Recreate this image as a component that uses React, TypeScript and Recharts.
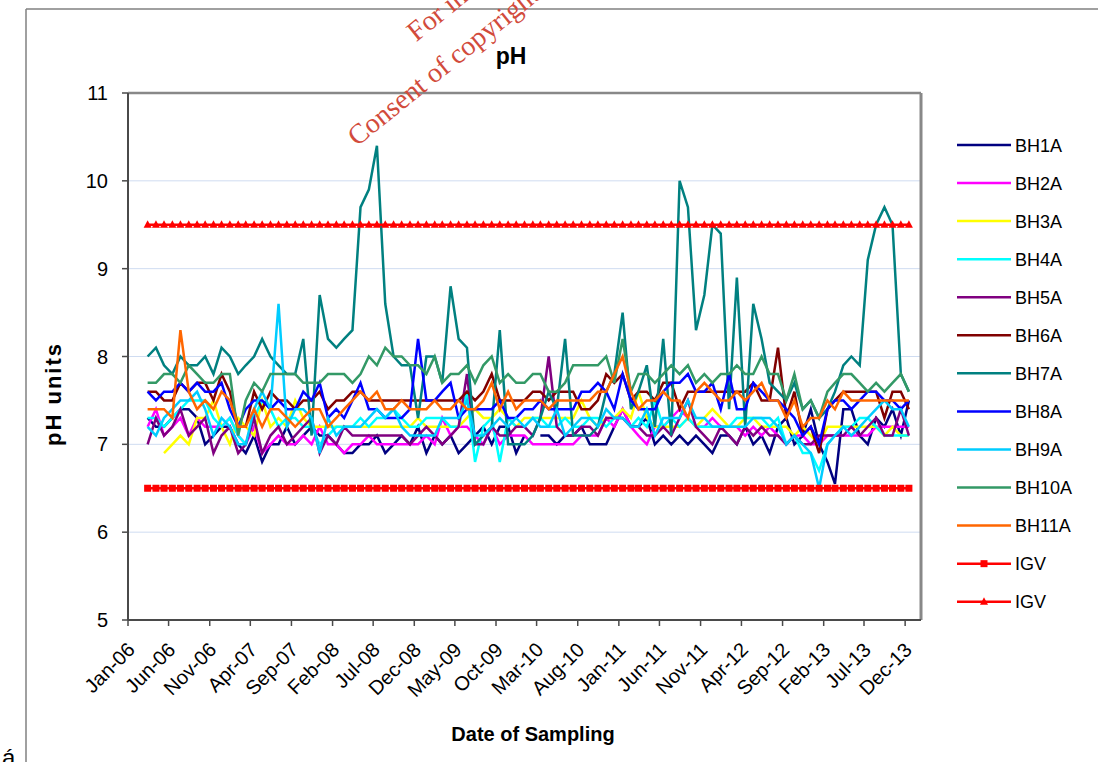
import { LineChart, Line, XAxis, YAxis, CartesianGrid, ReferenceLine } from "recharts";

// Monthly sampling rounds, Mar-06 .. Dec-13 (values in pH units)
const sampleDates = [
  "Mar-06", "Apr-06", "May-06", "Jun-06", "Jul-06", "Aug-06", "Sep-06", "Oct-06", "Nov-06", "Dec-06",
  "Jan-07", "Feb-07", "Mar-07", "Apr-07", "May-07", "Jun-07", "Jul-07", "Aug-07", "Sep-07", "Oct-07", "Nov-07", "Dec-07",
  "Jan-08", "Feb-08", "Mar-08", "Apr-08", "May-08", "Jun-08", "Jul-08", "Aug-08", "Sep-08", "Oct-08", "Nov-08", "Dec-08",
  "Jan-09", "Feb-09", "Mar-09", "Apr-09", "May-09", "Jun-09", "Jul-09", "Aug-09", "Sep-09", "Oct-09", "Nov-09", "Dec-09",
  "Jan-10", "Feb-10", "Mar-10", "Apr-10", "May-10", "Jun-10", "Jul-10", "Aug-10", "Sep-10", "Oct-10", "Nov-10", "Dec-10",
  "Jan-11", "Feb-11", "Mar-11", "Apr-11", "May-11", "Jun-11", "Jul-11", "Aug-11", "Sep-11", "Oct-11", "Nov-11", "Dec-11",
  "Jan-12", "Feb-12", "Mar-12", "Apr-12", "May-12", "Jun-12", "Jul-12", "Aug-12", "Sep-12", "Oct-12", "Nov-12", "Dec-12",
  "Jan-13", "Feb-13", "Mar-13", "Apr-13", "May-13", "Jun-13", "Jul-13", "Aug-13", "Sep-13", "Oct-13", "Nov-13", "Dec-13",
];

const tickLabels = [
  "Jan-06", "Jun-06", "Nov-06", "Apr-07", "Sep-07", "Feb-08", "Jul-08", "Dec-08", "May-09", "Oct-09",
  "Mar-10", "Aug-10", "Jan-11", "Jun-11", "Nov-11", "Apr-12", "Sep-12", "Feb-13", "Jul-13", "Dec-13",
];

const yTicks = [5, 6, 7, 8, 9, 10, 11];

const bh1a = [
  7.3, 7.2, 7.2, 7.3, 7.4, 7.4, 7.3, 7.0, 7.1, 7.2,
  7.2, 7.0, 6.9, 7.1, 6.8, 7.0, 7.0, 7.2, 7.0, 7.1,
  7.2, 7.1, 7.1, 7.0, 6.9, 6.9, 7.0, 7.0, 7.1, 6.9,
  7.0, 7.1, 7.0, 7.2, 6.9, 7.1, 7.0, 7.1, 6.9, 7.0,
  7.1, 7.2, 7.0, 7.2, 7.2, 6.9, 7.1, null, 7.1, 7.1,
  7.0, 7.1, 7.1, 7.2, 7.0, 7.0, 7.0, 7.2, 7.4, 7.2,
  7.2, 7.3, 7.0, 7.1, 7.0, 7.1, 7.0, 7.1, 7.0, 6.9,
  7.1, 7.1, 7.0, 7.2, 7.0, 7.1, 6.9, 7.2, 7.3, 7.0,
  7.1, 7.4, 7.0, 6.8, 6.55, 7.4, 7.4, 7.1, 7.0, 7.3,
  7.2, 7.4, 7.1, 7.5,
];

const bh2a = [
  7.2, 7.4, 7.1, 7.2, 7.3, 7.1, 7.3, 7.2, 7.2, 7.2,
  7.3, 7.1, 7.0, 7.2, 6.9, 7.0, 7.1, 7.0, 7.0, 7.1,
  7.0, 7.2, 7.0, 7.0, 6.9, 7.0, 7.0, 7.1, 7.0, 7.0,
  7.0, 7.0, 7.0, 7.0, 7.1, 7.0, 7.3, 7.1, 7.2, 7.2,
  7.1, 7.0, 7.2, 7.0, 7.1, 7.1, 7.1, 7.0, 7.0, 7.0,
  7.0, 7.0, 7.0, 7.1, 7.1, 7.1, 7.3, 7.2, 7.4, 7.2,
  7.1, 7.0, 7.2, 7.2, 7.3, 7.4, 7.3, 7.2, 7.2, 7.3,
  7.2, 7.2, 7.2, 7.1, 7.2, 7.1, 7.2, 7.1, 7.0, 7.1,
  7.1, 7.0, 7.0, 7.1, 7.1, 7.1, 7.1, 7.1, 7.1, 7.2,
  7.2, 7.2, 7.2, 7.2,
];

const bh3a = [
  null, null, 6.9, 7.0, 7.1, 7.0, 7.3, 7.3, 7.5, 7.2,
  7.0, 7.3, 7.2, 7.1, 7.5, 7.2, 7.3, 7.2, 7.5, 7.3,
  7.2, 7.2, 7.2, 7.2, 7.2, 7.2, 7.2, 7.2, 7.2, 7.2,
  7.2, 7.2, 7.2, 7.3, 7.2, 7.2, 7.2, 7.2, 7.2, 7.3,
  7.4, 7.3, 7.3, 7.4, 7.3, 7.2, 7.3, 7.3, 7.3, 7.3,
  7.3, 7.3, 7.3, 7.5, 7.3, 7.2, 7.3, 7.3, 7.4, 7.3,
  7.6, 7.3, 7.2, 7.2, 7.2, 7.2, 7.3, 7.2, 7.3, 7.4,
  7.3, 7.2, 7.2, 7.3, 7.3, 7.2, 7.2, 7.2, 7.2, 7.1,
  7.2, 7.1, 7.0, 7.2, 7.2, 7.2, 7.2, 7.2, 7.2, 7.2,
  7.1, 7.2, 7.1, 7.1,
];

const bh4a = [
  7.3, 7.3, 7.2, 7.3, 7.4, 7.5, 7.5, 7.5, 7.3, 7.2,
  7.3, 7.1, 7.0, 7.3, 7.5, 7.4, 7.2, 7.3, 7.3, 7.2,
  7.2, 7.0, 7.1, 7.2, 7.2, 7.2, 7.3, 7.2, 7.3, 7.3,
  7.4, 7.3, 7.2, 7.2, 7.3, 7.3, 7.3, 7.2, 7.2, 7.6,
  6.8, 7.2, 7.3, 6.8, 7.3, 7.2, 7.2, 7.3, 7.3, 7.2,
  7.2, 7.3, 7.2, 7.2, 7.3, 7.3, 7.2, 7.3, 7.3, 7.2,
  7.3, 7.2, 7.5, 7.2, 7.3, 7.2, 7.3, 7.2, 7.2, 7.2,
  7.2, 7.2, 7.3, 7.3, 7.3, 7.3, 7.2, 7.3, 7.0, 7.1,
  6.9, 6.9, 6.7, 7.0, 7.1, 7.2, 7.2, 7.3, 7.3, 7.2,
  7.1, 7.1, 7.1, 7.1,
];

const bh5a = [
  7.0, 7.3, 7.1, 7.2, 7.4, 7.1, 7.2, 7.3, 6.9, 7.1,
  7.2, 6.9, 7.0, 7.3, 6.9, 7.1, 7.2, 7.0, 7.1, 7.2,
  7.3, 6.9, 7.1, 7.0, 7.2, 7.1, 7.1, 7.1, 7.1, 7.1,
  7.1, 7.1, 7.0, 7.1, 7.2, 7.1, 7.0, 7.1, 7.2, 7.8,
  7.0, 7.0, 7.2, 7.1, 7.1, 7.2, 7.2, 7.1, 7.3, 8.0,
  7.2, 7.1, 7.1, 7.2, 7.2, 7.1, 7.3, 7.3, 7.3, 7.2,
  7.2, 7.1, 7.1, 7.2, 7.1, 7.3, 7.5, 7.2, 7.1, 7.0,
  7.2, 7.1, 7.0, 7.2, 7.1, 7.2, 7.1, 7.1, 7.0, 7.1,
  7.0, 7.0, 7.1, 7.1, 7.1, 7.1, 7.2, 7.1, 7.2, 7.3,
  7.1, 7.1, 7.4, 7.1,
];

const bh6a = [
  7.6, 7.6, 7.5, 7.5, 7.7, 7.6, 7.7, 7.7, 7.5, 7.8,
  7.6, 7.2, 7.2, 7.6, 7.4, 7.6, 7.5, 7.5, 7.4, 7.5,
  7.5, 7.6, 7.4, 7.5, 7.5, 7.6, 7.6, 7.5, 7.5, 7.5,
  7.5, 7.5, 7.5, 7.5, 7.5, 7.5, 7.5, 7.5, 7.5, 7.6,
  7.5, 7.6, 7.8, 7.5, 7.5, 7.5, 7.5, 7.6, 7.6, 7.5,
  7.6, 7.6, 7.6, 7.4, 7.4, 7.5, 7.8, 7.7, 7.8, 7.5,
  7.6, 7.6, 7.5, 7.7, 7.7, 7.4, 7.6, 7.6, 7.6, 7.6,
  7.6, 7.6, 7.6, 7.6, 7.7, 7.5, 7.5, 8.1, 7.3, 7.6,
  7.1, 7.2, 6.9, 7.4, 7.5, 7.6, 7.6, 7.6, 7.6, 7.6,
  7.3, 7.6, 7.6, 7.4,
];

const bh7a = [
  8.0, 8.1, 7.9, 7.8, 8.0, 7.9, 7.9, 8.0, 7.8, 8.1,
  8.0, 7.8, 7.9, 8.0, 8.2, 8.0, 7.9, 7.8, 7.8, 8.2,
  7.1, 8.7, 8.2, 8.1, 8.2, 8.3, 9.7, 9.9, 10.4, 8.6,
  8.0, 7.9, 7.9, 7.3, 8.0, 8.0, 7.7, 8.8, 8.2, 8.1,
  7.0, 7.1, 7.2, 8.3, 7.0, 7.0, 7.0, 7.1, 7.3, 7.6,
  7.4, 8.2, 7.1, 7.1, 7.1, 7.2, 7.6, 7.8, 8.5, 7.4,
  7.6, 7.9, 7.2, 8.2, 7.1, 10.0, 9.7, 8.3, 8.7, 9.5,
  9.4, 7.4, 8.9, 7.2, 8.6, 8.2, 7.7, 7.6, 7.5, 7.7,
  7.4, 7.5, 7.3, 7.4, 7.6, 7.9, 8.0, 7.9, 9.1, 9.5,
  9.7, 9.5, 7.8, 7.6,
];

const bh8a = [
  7.6, 7.5, 7.6, 7.6, 7.7, 7.6, 7.7, 7.6, 7.6, 7.7,
  7.4, 7.2, 7.4, 7.5, 7.5, 7.4, 7.5, 7.4, 7.4, 7.6,
  7.5, 7.7, 7.3, 7.4, 7.3, 7.5, 7.7, 7.4, 7.4, 7.3,
  7.3, 7.3, 7.4, 8.2, 7.5, 7.5, 7.6, 7.7, 7.3, 7.4,
  7.4, 7.4, 7.4, 7.5, 7.3, 7.3, 7.4, 7.4, 7.5, 7.4,
  7.4, 7.4, 7.4, 7.6, 7.6, 7.7, 7.6, 7.4, 7.8, 7.5,
  7.4, 7.4, 7.4, 7.6, 7.7, 7.7, 7.8, 7.6, 7.6, 7.7,
  7.4, 7.8, 7.4, 7.4, 7.7, 7.6, 7.5, 7.5, 7.4, 7.3,
  7.1, 7.2, 7.0, 7.4, 7.5, 7.5, 7.4, 7.5, 7.6, 7.6,
  7.5, 7.5, 7.4, 7.5,
];

const bh9a = [
  7.2, 7.1, 7.3, 7.4, 7.5, 7.5, 7.6, 7.4, 7.1, 7.3,
  7.2, 7.0, 7.0, 7.4, 7.6, 7.4, 8.6, 7.2, 7.4, 7.4,
  7.3, 6.9, 7.3, 7.1, 7.2, 7.2, 7.2, 7.3, 7.4, 7.3,
  7.4, 7.2, 7.1, 7.1, 7.1, 7.1, 7.3, 7.3, 7.3, 7.5,
  7.1, 7.1, 7.2, 7.3, 7.2, 7.3, 7.2, 7.3, 7.2, 7.2,
  7.4, 7.1, 7.2, 7.3, 7.3, 7.2, 7.4, 7.3, 7.3, 7.2,
  7.2, 7.4, 7.1, 7.3, 7.3, 7.3, 7.5, 7.3, 7.3, 7.2,
  7.2, 7.2, 7.2, 7.2, 7.3, 7.3, 7.3, 7.2, 7.0, 7.1,
  7.0, 6.9, 6.5, 7.0, 7.1, 7.2, 7.1, 7.2, 7.3, 7.4,
  7.5, 7.4, 7.4, 7.2,
];

const bh10a = [
  7.7, 7.7, 7.8, 7.8, 7.7, 7.9, 7.8, 7.7, 7.7, 7.8,
  7.8, 7.1, 7.5, 7.7, 7.6, 7.8, 7.8, 7.8, 7.8, 7.7,
  7.7, 7.7, 7.8, 7.8, 7.8, 7.7, 7.8, 8.0, 7.9, 8.1,
  8.0, 8.0, 7.9, 7.9, 7.8, 8.0, 7.7, 7.8, 7.8, 7.9,
  7.7, 7.9, 8.0, 7.7, 7.8, 7.7, 7.7, 7.8, 7.8, 7.6,
  7.6, 7.7, 7.9, 7.9, 7.9, 7.9, 8.0, 7.7, 8.2, 7.6,
  7.8, 7.8, 7.7, 7.8, 7.9, 7.8, 7.9, 7.7, 7.8, 7.7,
  7.8, 7.8, 7.9, 7.8, 7.8, 8.0, 7.8, 7.8, 7.5, 7.8,
  7.4, 7.5, 7.3, 7.6, 7.7, 7.8, 7.8, 7.7, 7.6, 7.7,
  7.6, 7.7, 7.8, 7.6,
];

const bh11a = [
  7.4, 7.4, 7.4, 7.3, 8.3, 7.6, 7.4, 7.5, 7.4, 7.6,
  7.5, 7.2, 7.2, 7.4, 7.2, 7.4, 7.4, 7.3, 7.2, 7.3,
  7.4, 7.4, 7.2, 7.3, 7.4, 7.5, 7.6, 7.5, 7.6, 7.4,
  7.4, 7.5, 7.4, 7.4, 7.4, 7.5, 7.4, 7.4, 7.5, 7.4,
  7.4, 7.5, 7.7, 7.4, 7.6, 7.4, 7.5, 7.5, 7.5, 7.4,
  7.5, 7.5, 7.5, 7.5, 7.5, 7.6, 7.6, 7.8, 8.0, 7.6,
  7.4, 7.5, 7.5, 7.6, 7.5, 7.5, 7.3, 7.6, 7.7, 7.6,
  7.5, 7.5, 7.6, 7.5, 7.6, 7.7, 7.5, 7.5, 7.3, 7.5,
  7.2, 7.3, 7.3, 7.5, 7.4, 7.6, 7.5, 7.5, 7.5, 7.5,
  7.5, 7.5, 7.5, 7.5,
];

// guideline values
const igvLower = 6.5;
const igvUpper = 9.5;

const series = [
  { key: "BH1A", color: "#000080", values: bh1a },
  { key: "BH2A", color: "#FF00FF", values: bh2a },
  { key: "BH3A", color: "#FFFF00", values: bh3a },
  { key: "BH4A", color: "#00FFFF", values: bh4a },
  { key: "BH5A", color: "#800080", values: bh5a },
  { key: "BH6A", color: "#800000", values: bh6a },
  { key: "BH7A", color: "#008080", values: bh7a },
  { key: "BH8A", color: "#0000FF", values: bh8a },
  { key: "BH9A", color: "#00CCFF", values: bh9a },
  { key: "BH10A", color: "#339966", values: bh10a },
  { key: "BH11A", color: "#FF6600", values: bh11a },
];

const MONTHS = ["Jan", "Feb", "Mar", "Apr", "May", "Jun", "Jul", "Aug", "Sep", "Oct", "Nov", "Dec"];

const toTime = (label: string, day: number) => {
  const [mon, yy] = label.split("-");
  return Date.UTC(2000 + Number(yy), MONTHS.indexOf(mon), day);
};

const fmtDate = (t: number) => {
  const d = new Date(t);
  return `${MONTHS[d.getUTCMonth()]}-${String(d.getUTCFullYear() % 100).padStart(2, "0")}`;
};

const xMin = toTime("Jan-06", 1);
const xMax = Date.UTC(2014, 0, 29);
const xTicks = tickLabels.map((l) => toTime(l, 1));

const rows = sampleDates.map((d, i) => {
  const row: Record<string, number | null> = { t: toTime(d, 15), IGV_LO: igvLower, IGV_HI: igvUpper };
  series.forEach((s) => {
    row[s.key] = s.values[i];
  });
  return row;
});

const FONT = "'Liberation Sans', Arial, sans-serif";

function DateTick({ x, y, payload }: any) {
  const ax = x + 8;
  const ay = y + 23;
  return (
    <text x={ax} y={ay} transform={`rotate(-45 ${ax} ${ay})`} textAnchor="end" fontSize={20} fill="#000" fontFamily={FONT}>
      {fmtDate(payload.value)}
    </text>
  );
}

const squareDot = (p: any) =>
  p.cx == null ? <g key={`sq-${p.index}`} /> : (
    <rect key={`sq-${p.index}`} x={p.cx - 3.5} y={p.cy - 3.5} width={7} height={7} fill="#FF0000" />
  );

const triangleDot = (p: any) =>
  p.cx == null ? <g key={`tr-${p.index}`} /> : (
    <path key={`tr-${p.index}`} d={`M${p.cx},${p.cy - 4.5}L${p.cx + 4},${p.cy + 3}L${p.cx - 4},${p.cy + 3}Z`} fill="#FF0000" />
  );

const legendItems = [
  ...series.map((s) => ({ label: s.key, color: s.color, marker: "none" })),
  { label: "IGV", color: "#FF0000", marker: "square" },
  { label: "IGV", color: "#FF0000", marker: "triangle" },
];

export default function App() {
  return (
    <div style={{ position: "relative", width: 1098, height: 762, background: "#fff", overflow: "hidden" }}>
      <style>{`body{margin:0}`}</style>
      <LineChart width={1098} height={762} data={rows} margin={{ top: 93, right: 177, bottom: 0, left: 0 }}>
        <CartesianGrid vertical={false} stroke="#cfdcf1" strokeWidth={1} />
        <XAxis
          dataKey="t"
          type="number"
          domain={[xMin, xMax]}
          ticks={xTicks}
          interval={0}
          allowDataOverflow
          height={142}
          tick={<DateTick />}
          tickSize={6}
          axisLine={{ stroke: "#4a4a4a", strokeWidth: 2 }}
          tickLine={{ stroke: "#4a4a4a", strokeWidth: 1.5 }}
        />
        <YAxis
          domain={[5, 11]}
          ticks={yTicks}
          interval={0}
          width={128}
          tickSize={6}
          tickMargin={14}
          tick={{ fontSize: 20, fill: "#000", fontFamily: FONT }}
          axisLine={{ stroke: "#4a4a4a", strokeWidth: 2 }}
          tickLine={{ stroke: "#4a4a4a", strokeWidth: 1.5 }}
        />
        <ReferenceLine y={11} stroke="#888" strokeWidth={2.5} />
        <ReferenceLine x={xMax} stroke="#888" strokeWidth={3} />
        {series.map((s) => (
          <Line
            key={s.key}
            dataKey={s.key}
            type="linear"
            stroke={s.color}
            strokeWidth={2.5}
            dot={false}
            activeDot={false}
            isAnimationActive={false}
          />
        ))}
        <Line dataKey="IGV_LO" type="linear" stroke="#FF0000" strokeWidth={2.5} dot={squareDot} activeDot={false} isAnimationActive={false} />
        <Line dataKey="IGV_HI" type="linear" stroke="#FF0000" strokeWidth={2.5} dot={triangleDot} activeDot={false} isAnimationActive={false} />
      </LineChart>

      <svg width={1098} height={762} style={{ position: "absolute", left: 0, top: 0, pointerEvents: "none" }}>
        {/* outer frame */}
        <line x1={26} y1={9} x2={1098} y2={9} stroke="#808080" strokeWidth={1.5} />
        <line x1={26} y1={9} x2={26} y2={762} stroke="#808080" strokeWidth={1.5} />

        <text x={511} y={64} textAnchor="middle" fontSize={23} fontWeight="bold" fontFamily={FONT}>pH</text>
        <text
          x={61}
          y={394}
          transform="rotate(-90 61 394)"
          textAnchor="middle"
          fontSize={22}
          letterSpacing={2}
          fontWeight="bold"
          fontFamily={FONT}
        >
          pH units
        </text>
        <text x={533} y={741} textAnchor="middle" fontSize={20} fontWeight="bold" fontFamily={FONT}>Date of Sampling</text>

        {legendItems.map((it, k) => {
          const y = 145 + k * 38.06;
          return (
            <g key={k}>
              <line x1={957} y1={y} x2={1011} y2={y} stroke={it.color} strokeWidth={2.5} />
              {it.marker === "square" && <rect x={980.5} y={y - 3.5} width={7} height={7} fill="#FF0000" />}
              {it.marker === "triangle" && <path d={`M984,${y - 4.5}L988,${y + 3}L980,${y + 3}Z`} fill="#FF0000" />}
              <text x={1015} y={y + 6.5} fontSize={18} fontFamily={FONT}>{it.label}</text>
            </g>
          );
        })}

        {/* watermark */}
        <g transform="translate(357,147) rotate(-39)" fill="#d24b3c" fontFamily="'Liberation Serif', 'Times New Roman', serif" fontSize={28}>
          <text x={112} y={-44}>For inspection purposes only.</text>
          <text x={0} y={0}>Consent of copyright owner required for any other use.</text>
        </g>

        <text x={2} y={766} fontSize={24} fontFamily={FONT}>á</text>
      </svg>
    </div>
  );
}
